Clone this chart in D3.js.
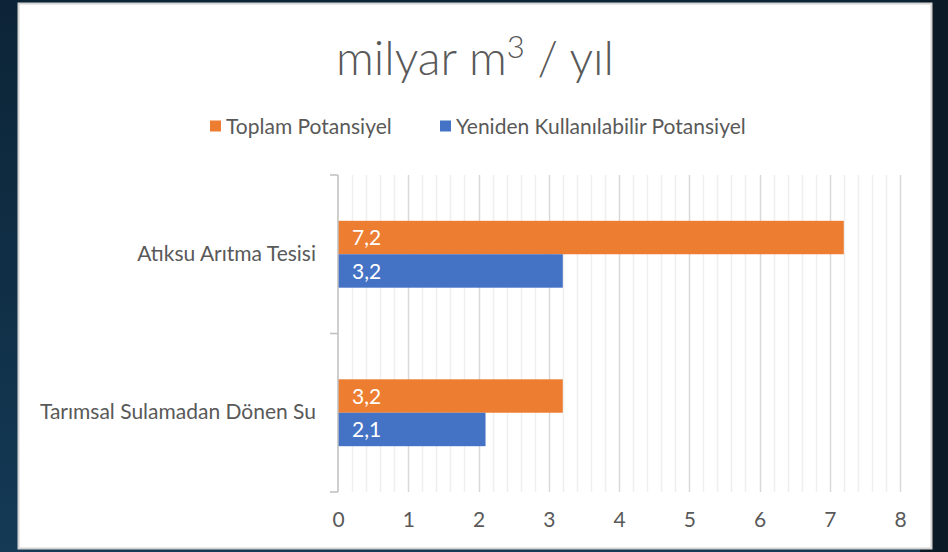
<!DOCTYPE html>
<html>
<head>
<meta charset="utf-8">
<script src="https://cdn.jsdelivr.net/npm/d3@7"></script>
<style>
  html, body { margin: 0; padding: 0; }
  body { width: 948px; height: 552px; overflow: hidden; }
  text { font-family: Lato, "Open Sans", "DejaVu Sans", sans-serif; }
</style>
</head>
<body>
<svg id="chart" width="948" height="552"></svg>
<script>
'use strict';

// Chart data.
var categories = ['Atıksu Arıtma Tesisi', 'Tarımsal Sulamadan Dönen Su'];
var seriesNames = ['Toplam Potansiyel', 'Yeniden Kullanılabilir Potansiyel'];
var seriesColors = ['#ed7d31', '#4472c4'];
var toplam = [7.2, 3.2];
var yeniden = [3.2, 2.1];
var xTicks = [0, 1, 2, 3, 4, 5, 6, 7, 8];

var svg = d3.select('#chart');
var textColor = '#595959';
var labelSize = '21px';

// Dark slide background behind the white chart panel.
var defs = svg.append('defs');
var grad = defs.append('linearGradient')
    .attr('id', 'bg')
    .attr('x1', 0).attr('y1', 0).attr('x2', 0).attr('y2', 1);
grad.append('stop').attr('offset', '0%').attr('stop-color', '#0c2436');
grad.append('stop').attr('offset', '100%').attr('stop-color', '#143a56');
svg.append('rect')
    .attr('width', 948).attr('height', 552)
    .attr('fill', 'url(#bg)');
svg.append('rect')
    .attr('x', 920).attr('width', 28).attr('height', 552)
    .attr('fill', '#0a1a27');

// Chart panel.
svg.append('rect')
    .attr('x', 18.5).attr('y', 3.5)
    .attr('width', 913).attr('height', 545)
    .attr('fill', '#ffffff')
    .attr('stroke', '#d4d4d4')
    .attr('stroke-width', 2);

// Scales.
var x = d3.scaleLinear().domain([0, 8]).range([338, 900]);
var y = d3.scaleBand().domain(categories).range([175, 492]).padding(0);
var ySub = d3.scaleBand().domain(seriesNames)
    .range([0, y.bandwidth()])
    .paddingInner(0)
    .paddingOuter(1.37);

// Grid: minor every 0.2, major every 1.
var minor = d3.range(1, 41).map(function(i) { return i / 5; })
    .filter(function(v) { return Math.abs(v - Math.round(v)) > 1e-6; });
var grid = svg.append('g').attr('class', 'grid');
grid.selectAll('line.minor')
    .data(minor)
  .enter().append('line')
    .attr('class', 'minor')
    .attr('x1', function(d) { return Math.round(x(d)) + 0.5; })
    .attr('x2', function(d) { return Math.round(x(d)) + 0.5; })
    .attr('y1', y.range()[0]).attr('y2', y.range()[1])
    .attr('stroke', '#efefef')
    .attr('stroke-width', 1.5);
grid.selectAll('line.major')
    .data(xTicks.slice(1))
  .enter().append('line')
    .attr('class', 'major')
    .attr('x1', function(d) { return Math.round(x(d)) + 0.5; })
    .attr('x2', function(d) { return Math.round(x(d)) + 0.5; })
    .attr('y1', y.range()[0]).attr('y2', y.range()[1])
    .attr('stroke', '#d9d9d9')
    .attr('stroke-width', 1.5);

// Bars, one group per category.
var rows = categories.map(function(c, i) {
  return {cat: c, values: [toplam[i], yeniden[i]]};
});
var fmt = function(v) { return d3.format('.1f')(v).replace('.', ','); };

var row = svg.selectAll('g.row')
    .data(rows)
  .enter().append('g')
    .attr('class', 'row')
    .attr('transform', function(d) { return 'translate(0,' + y(d.cat) + ')'; });

var bar = row.selectAll('g.bar')
    .data(function(d) {
      return d.values.map(function(v, j) {
        return {name: seriesNames[j], value: v, color: seriesColors[j]};
      });
    })
  .enter().append('g')
    .attr('class', 'bar');

bar.append('rect')
    .attr('x', x(0))
    .attr('y', function(d) { return ySub(d.name); })
    .attr('width', function(d) { return x(d.value) - x(0); })
    .attr('height', ySub.bandwidth())
    .attr('fill', function(d) { return d.color; });

bar.append('text')
    .attr('x', x(0) + 14)
    .attr('y', function(d) { return ySub(d.name) + ySub.bandwidth() / 2; })
    .attr('dy', '0.36em')
    .attr('fill', '#ffffff')
    .style('font-size', labelSize)
    .text(function(d) { return fmt(d.value); });

// Category axis (left).
var yAxis = svg.append('g')
    .attr('transform', 'translate(' + x(0) + ',0)')
    .call(d3.axisLeft(y).tickSize(0).tickPadding(22));
yAxis.select('.domain').remove();
yAxis.selectAll('text')
    .attr('fill', textColor)
    .style('font-size', labelSize)
    .style('font-family', 'Lato, "Open Sans", sans-serif');

// Axis line with category separator ticks.
var sep = [y.range()[0], y.range()[0] + y.step(), y.range()[1]];
svg.append('line')
    .attr('x1', x(0)).attr('x2', x(0))
    .attr('y1', y.range()[0]).attr('y2', y.range()[1])
    .attr('stroke', '#bfbfbf').attr('stroke-width', 1.5);
svg.selectAll('line.sep')
    .data(sep)
  .enter().append('line')
    .attr('class', 'sep')
    .attr('x1', x(0) - 8).attr('x2', x(0))
    .attr('y1', function(d) { return d; })
    .attr('y2', function(d) { return d; })
    .attr('stroke', '#bfbfbf').attr('stroke-width', 1.5);

// Value axis (bottom).
var xAxis = svg.append('g')
    .attr('transform', 'translate(0,' + y.range()[1] + ')')
    .call(d3.axisBottom(x).tickValues(xTicks).tickSize(0).tickPadding(20)
        .tickFormat(d3.format('d')));
xAxis.select('.domain').remove();
xAxis.selectAll('text')
    .attr('fill', textColor)
    .style('font-size', labelSize)
    .style('font-family', 'Lato, "Open Sans", sans-serif');

// Title.
var title = svg.append('text')
    .attr('x', 475).attr('y', 75)
    .attr('text-anchor', 'middle')
    .attr('fill', textColor)
    .style('font-size', '47px')
    .style('font-weight', 300);
title.append('tspan').text('milyar m');
title.append('tspan').attr('dy', -17).style('font-size', '31px').text('3');
title.append('tspan').attr('dy', 17).text(' / yıl');

// Legend.
var legendX = [210, 440];
var legend = svg.selectAll('g.legend')
    .data(seriesNames)
  .enter().append('g')
    .attr('class', 'legend')
    .attr('transform', function(d, i) { return 'translate(' + legendX[i] + ',126)'; });
legend.append('rect')
    .attr('x', 0).attr('y', -5.5)
    .attr('width', 11).attr('height', 11)
    .attr('fill', function(d, i) { return seriesColors[i]; });
legend.append('text')
    .attr('x', 16).attr('dy', '0.36em')
    .attr('fill', textColor)
    .style('font-size', labelSize)
    .text(function(d) { return d; });
</script>
</body>
</html>
